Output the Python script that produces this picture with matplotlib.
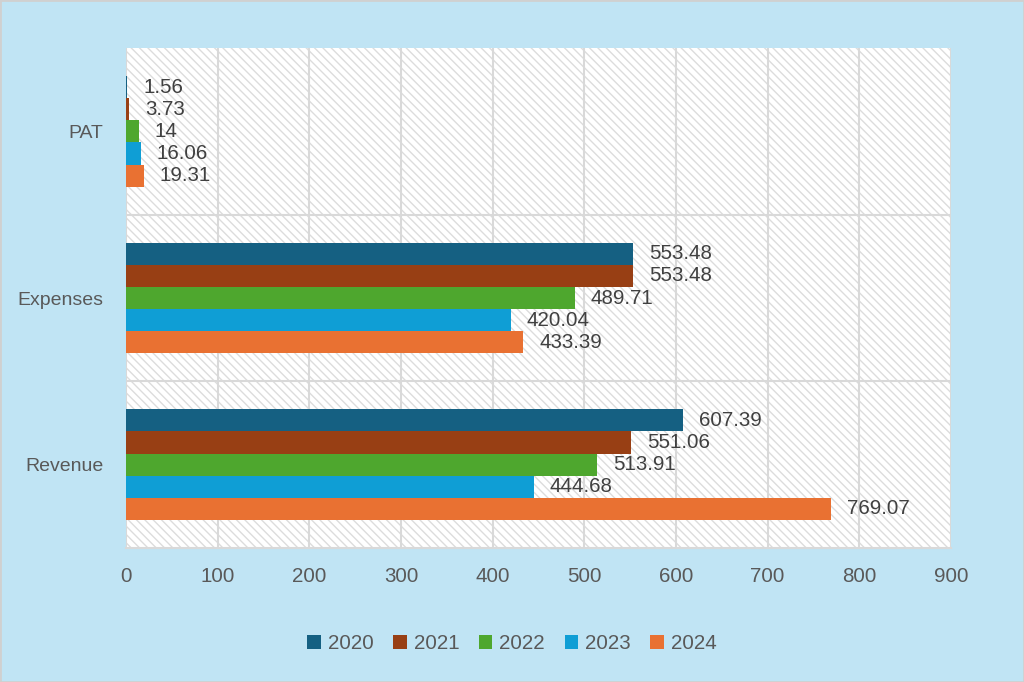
import numpy as np
import matplotlib
matplotlib.use('Agg')
from matplotlib import pyplot as plt

# chart data
categories = ['Revenue', 'Expenses', 'PAT']
years = ['2020', '2021', '2022', '2023', '2024']
values = {
    '2020': [607.39, 553.48, 1.56],
    '2021': [551.06, 553.48, 3.73],
    '2022': [513.91, 489.71, 14],
    '2023': [444.68, 420.04, 16.06],
    '2024': [769.07, 433.39, 19.31],
}
colors = ['#156082', '#983F14', '#4EA72E', '#0F9ED5', '#E97132']
xticks = [0, 100, 200, 300, 400, 500, 600, 700, 800, 900]

plt.rcParams['font.family'] = ['Liberation Sans', 'DejaVu Sans']
plt.rcParams['hatch.color'] = '#DCDCDC'
plt.rcParams['hatch.linewidth'] = 1.0

bg = '#C0E4F4'
fig = plt.figure(figsize=(10.24, 6.82), dpi=100, facecolor=bg)
fig.patches.append(plt.Rectangle((0, 0), 1, 1, transform=fig.transFigure,
                                 fill=False, edgecolor='#D0D0D0', lw=2))
ax = fig.add_axes([0.123, 0.1965, 0.8057, 0.733])

# hatched plot area
ax.set_facecolor('white')
ax.add_patch(plt.Rectangle((0, 0), 1, 1, transform=ax.transAxes, facecolor='white',
                           hatch='\\\\\\\\', edgecolor='#DCDCDC', lw=0, zorder=0))

h = 0.133
yc = np.arange(len(categories))
for j, yr in enumerate(years):
    ypos = yc + (2 - j) * h
    bars = ax.barh(ypos, values[yr], height=h, color=colors[j], label=yr, zorder=3)
    for b, v in zip(bars, values[yr]):
        ax.annotate(f'{v:g}', (b.get_width(), b.get_y() + h / 2), xytext=(11.5, 0),
                    textcoords='offset points', va='center', ha='left',
                    fontsize=14.8, color='#404040', zorder=4)

ax.set_xlim(0, 900)
ax.set_ylim(-0.5, 2.5)
ax.set_xticks(xticks)
ax.set_yticks(yc)
ax.set_yticklabels(categories)
ax.set_yticks([0.5, 1.5], minor=True)
ax.tick_params(axis='x', length=0, pad=14, labelsize=14.8, colors='#595959')
ax.tick_params(axis='y', which='both', length=0, pad=16, labelsize=14, colors='#595959')
ax.grid(axis='x', color='#D9D9D9', lw=1.5, zorder=1)
ax.grid(axis='y', which='minor', color='#D9D9D9', lw=1.5, zorder=1)
ax.set_axisbelow(True)
for s in ['top', 'right', 'left']:
    ax.spines[s].set_visible(False)
ax.spines['bottom'].set_color('#D9D9D9')
ax.spines['bottom'].set_linewidth(1.5)

leg = fig.legend(loc='center', bbox_to_anchor=(0.5, 0.056), ncol=5, frameon=False,
                 fontsize=14.8, handlelength=0.65, handleheight=0.65, handletextpad=0.35,
                 columnspacing=0.95)
for t in leg.get_texts():
    t.set_color('#595959')

fig.savefig('out.png', dpi=100, facecolor=bg)
